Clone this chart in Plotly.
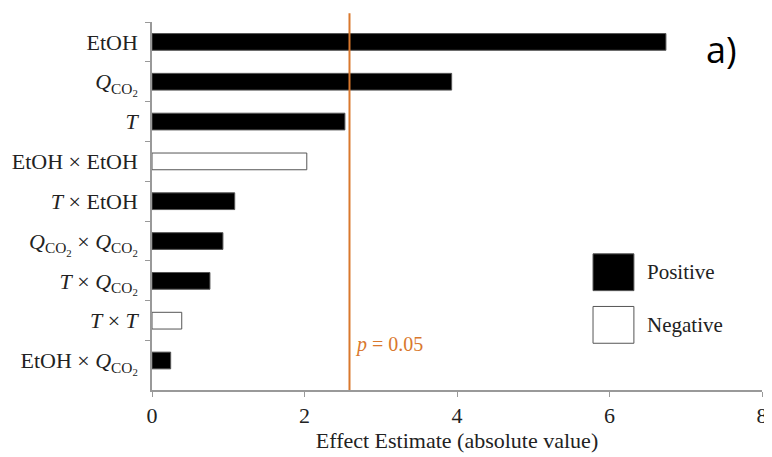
import plotly.graph_objects as go

categories = [
    "EtOH",
    "<i>Q</i><sub>CO<sub>2</sub></sub>",
    "<i>T</i>",
    "EtOH × EtOH",
    "<i>T</i> × EtOH",
    "<i>Q</i><sub>CO<sub>2</sub></sub> × <i>Q</i><sub>CO<sub>2</sub></sub>",
    "<i>T</i> × <i>Q</i><sub>CO<sub>2</sub></sub>",
    "<i>T</i> × <i>T</i>",
    "EtOH × <i>Q</i><sub>CO<sub>2</sub></sub>",
]
effects = [6.74, 3.93, 2.53, 2.03, 1.085, 0.93, 0.76, 0.39, 0.245]
signs = ["Positive", "Positive", "Positive", "Negative", "Positive",
         "Positive", "Positive", "Negative", "Positive"]
p_threshold = 2.59
x_ticks = [0, 2, 4, 6, 8]

fill = {"Positive": "black", "Negative": "white"}
ORANGE = "#D9782D"
FONT = "Liberation Serif"

fig = go.Figure()
fig.add_trace(go.Bar(
    x=effects, y=categories, orientation="h",
    marker=dict(color=[fill[s] for s in signs],
                line=dict(color="#555555", width=1)),
    width=0.42, showlegend=False, hoverinfo="x+y",
))

fig.add_shape(type="line", xref="x", yref="paper",
              x0=p_threshold, x1=p_threshold, y0=0, y1=1.024,
              line=dict(color=ORANGE, width=2))
fig.add_annotation(xref="x", yref="y", x=p_threshold, y=categories[-1],
                   text="<i>p</i> = 0.05", showarrow=False,
                   xanchor="left", yanchor="middle", xshift=4, yshift=16,
                   font=dict(family=FONT, size=20, color=ORANGE))

# legend
legend_items = [("Positive", 0.32), ("Negative", 0.177)]
for name, yc in legend_items:
    fig.add_shape(type="rect", xref="paper", yref="paper",
                  x0=0.723, x1=0.79, y0=yc - 0.05, y1=yc + 0.05,
                  fillcolor=fill[name], line=dict(color="#555555", width=1))
    fig.add_annotation(xref="paper", yref="paper", x=0.808, y=yc,
                       text=name, showarrow=False, xanchor="left",
                       yanchor="middle",
                       font=dict(family=FONT, size=21, color="#222"))

fig.add_annotation(xref="paper", yref="paper", x=0.905, y=0.925,
                   text="a)", showarrow=False, xanchor="left",
                   yanchor="middle",
                   font=dict(family="Open Sans", size=36, color="black"))

fig.update_layout(
    width=760, height=449,
    margin=dict(l=144, r=6, t=14, b=67, autoexpand=False),
    plot_bgcolor="white", paper_bgcolor="white",
    font=dict(family=FONT, size=22, color="#222"),
    bargap=0.58,
)
fig.update_xaxes(
    range=[0, 8], tickvals=x_ticks, showgrid=False, zeroline=False,
    showline=True, linecolor="#999", linewidth=1.5,
    ticks="outside", ticklen=5, tickcolor="#999", automargin=False,
    ticklabeloverflow="allow",
    tickfont=dict(family=FONT, size=22),
    title=dict(text="Effect Estimate (absolute value)",
               font=dict(family=FONT, size=22), standoff=2),
)
fig.update_yaxes(
    autorange="reversed", showgrid=False, zeroline=False,
    showline=True, linecolor="#999", linewidth=1.5, automargin=False,
    ticks="outside", ticklen=5, tickcolor="#999", tickson="boundaries",
    tickfont=dict(family=FONT, size=22), ticklabelstandoff=8,
)

fig.write_html("out.html")
